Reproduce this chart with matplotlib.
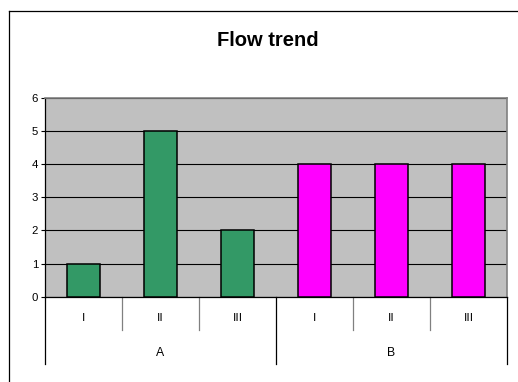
import matplotlib
matplotlib.use("Agg")
import matplotlib.pyplot as plt
from matplotlib.lines import Line2D
from matplotlib.transforms import blended_transform_factory

plt.rcParams['font.family'] = ['Liberation Sans', 'DejaVu Sans']

groups = ["A", "B"]
subcategories = ["I", "II", "III"]
values_a = [1, 5, 2]
values_b = [4, 4, 4]
y_ticks = [0, 1, 2, 3, 4, 5, 6]

W, H = 518, 382
fig = plt.figure(figsize=(W / 100, H / 100), dpi=100)
fig.patch.set_facecolor("white")

# chart frame (left and top edges)
fig.add_artist(Line2D([8.5 / W, 8.5 / W], [0, 1 - 10.5 / H], color="black", lw=0.9))
fig.add_artist(Line2D([8.5 / W, 1], [1 - 10.5 / H, 1 - 10.5 / H], color="black", lw=0.9))

ax = fig.add_axes([45 / W, 85.3 / H, 462 / W, 198.7 / H])
ax.set_facecolor("#C0C0C0")

n = len(subcategories)
xa = list(range(n))
xb = [n + i for i in range(n)]
ax.bar(xa, values_a, width=0.42, color="#339966", edgecolor="black", linewidth=1.1, zorder=3)
ax.bar(xb, values_b, width=0.42, color="#FF00FF", edgecolor="black", linewidth=1.1, zorder=3)

ax.set_xlim(-0.5, 2 * n - 0.5)
ax.set_ylim(0, 6)
ax.set_yticks(y_ticks)
ax.yaxis.grid(True, color="black", linewidth=0.8, zorder=1)
ax.set_axisbelow(True)
ax.tick_params(axis="y", direction="out", length=3, width=0.8, labelsize=8.2, pad=2)
ax.set_xticks([])

for side in ("top", "right"):
    ax.spines[side].set_color("#808080")
    ax.spines[side].set_linewidth(1.2)
ax.spines["left"].set_color("black")
ax.spines["bottom"].set_color("black")
ax.spines["left"].set_linewidth(0.9)
ax.spines["bottom"].set_linewidth(0.9)

fig.text(268 / W, 1 - 40 / H, "Flow trend", fontsize=14.5, fontweight="bold",
         ha="center", va="center")

# two-level category axis
tr = blended_transform_factory(ax.transData, ax.transAxes)
positions = xa + xb
labels = subcategories + subcategories
for x, lab in zip(positions, labels):
    ax.text(x, -0.107, lab, transform=tr, ha="center", va="center", fontsize=8.2,
            family=["DejaVu Sans"])
for gi, g in enumerate(groups):
    ax.text(gi * n + (n - 1) / 2, -0.283, g, transform=tr, ha="center", va="center", fontsize=8.8)

for k in range(2 * n + 1):
    x = k - 0.5
    if k % n == 0:
        ax.plot([x, x], [0, -0.339], transform=tr, color="black", lw=0.9, clip_on=False)
    else:
        ax.plot([x, x], [0, -0.1676], transform=tr, color="#808080", lw=0.9, clip_on=False)

fig.savefig("out.png", dpi=100)
